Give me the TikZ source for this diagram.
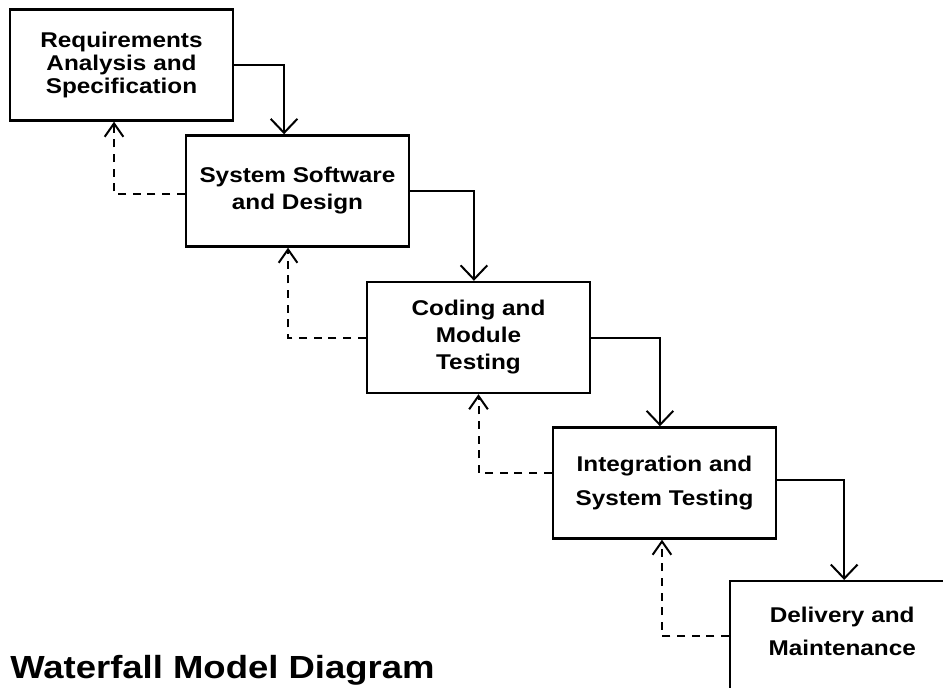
\documentclass[tikz,border=0pt]{standalone}
\usepackage{fontspec}
\usetikzlibrary{arrows.meta}
\newfontfamily\wf{Liberation Sans}[FakeStretch=1.14]
\newcommand\boxA{\wf\bfseries\fontsize{16pt}{17.25pt}\selectfont}
\newcommand\boxB{\wf\bfseries\fontsize{16pt}{20.25pt}\selectfont}
\newcommand\boxC{\wf\bfseries\fontsize{16pt}{25pt}\selectfont}
\begin{document}
\begin{tikzpicture}[x=0.75pt, y=-0.75pt,
  stage/.style={draw, line width=1.8pt, minimum width=167.25pt,
    minimum height=83.25pt, inner sep=0pt, align=center},
  flow/.style={line width=1.5pt,
    -{Straight Barb[length=10.5pt, width=20pt, line width=1.5pt]}},
  back/.style={line width=1.5pt, dash pattern=on 6pt off 5pt,
    -{Straight Barb[length=10pt, width=14pt, line width=1.5pt]}}]
  \clip (0,0) rectangle (943,688);
  \fill[white] (0,0) rectangle (943,688);

  % the five stages
  \node[stage, font=\boxA] (req) at (121.5,65) {Requirements\\Analysis and\\Specification};
  \node[stage, font=\boxB] (des) at (297.5,191) {System Software\\and Design};
  \node[stage, font=\boxB] (cod) at (478.5,337.5) {Coding and\\Module\\Testing};
  \node[stage, font=\boxC] (int) at (664.5,483) {Integration and\\System Testing};
  \node[stage, minimum width=168pt, minimum height=90pt, anchor=north west,
    label={[anchor=north, yshift=-20pt, font=\boxC, align=center, inner sep=0pt]north:Delivery and\\Maintenance}]
    (del) at (729,580) {};

  % forward flow
  \draw[flow] (req.east) -| ([xshift=-10.1pt]des.north);
  \draw[flow] (des.east) -| ([xshift=-3.4pt]cod.north);
  \draw[flow] (cod.east) -| ([xshift=-3.4pt]int.north);
  \draw[flow] ([yshift=2.25pt]int.east) -| ([xshift=1.5pt]del.north);

  % feedback
  \draw[back] ([yshift=-2.25pt]des.west) -| ([xshift=-5.6pt]req.south);
  \draw[back] (cod.west) -| ([xshift=-7.1pt]des.south);
  \draw[back] ([yshift=7.5pt]int.west) -| (cod.south);
  \draw[back] ([yshift=3.75pt]del.west) -| ([xshift=-1.9pt]int.south);

  % title
  \node[anchor=base west, inner sep=0pt, font=\wf\bfseries\fontsize{24pt}{28pt}\selectfont]
    (title) at (10,678) {Waterfall Model Diagram};
\end{tikzpicture}
\end{document}
